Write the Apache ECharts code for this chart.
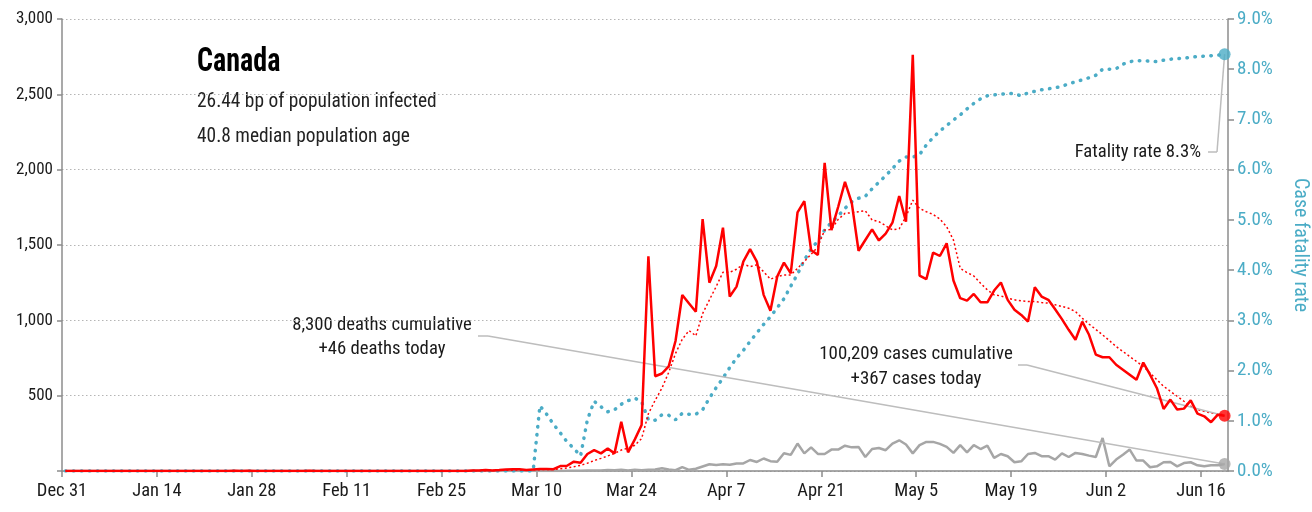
<!DOCTYPE html>
<html>
<head>
<meta charset="utf-8">
<script src="https://cdn.jsdelivr.net/npm/echarts@6/dist/echarts.min.js"></script>
<style>
html,body{margin:0;padding:0;background:#fff;}
#c{width:1312px;height:512px;}
</style>
</head>
<body>
<div id="c"></div>
<script>
// ---- data (day 0 = Dec 31, 2019; last day = Jun 19, 2020) ----
const tickLabels = ['Dec 31','Jan 14','Jan 28','Feb 11','Feb 25','Mar 10','Mar 24','Apr 7','Apr 21','May 5','May 19','Jun 2','Jun 16'];
const tickDays = [0,14,28,42,56,70,84,98,112,126,140,154,168];

const dailyCases = [
0,0,0,0,0,0,0,0,0,0, 0,0,0,0,0,0,0,0,0,0, 0,0,0,0,0,1,0,1,0,0,
0,0,0,0,0,0,1,0,0,0, 0,0,0,0,0,0,0,0,0,0, 0,0,0,0,0,0,0,0,0,0,
4,3,6,3,6,10,12,11,6,10, 13,14,12,33,35,62,55,113,139,117, 150,117,327,124,210,305,1425,629,647,695,
863,1168,1112,1057,1672,1250,1361,1615,1158,1224, 1390,1473,1390,1169,1063,1290,1383,1312,1716,1791,
1467,1434,2045,1599,1754,1919,1780,1462,1533,1604, 1530,1575,1648,1825,1655,2763,1297,1273,1449,1427,
1511,1264,1147,1131,1175,1120,1120,1198,1251,1136, 1070,1036,992,1220,1158,1136,1074,1008,937,871,
991,904,772,755,755,705,672,639,606,720, 639,551,412,474,408,414,469,381,363,324, 374,367];

const casesAvg = [
0,0,0,0,0,0,0,0,0,0, 0,0,0,0,0,0,0,0,0,0, 0,0,0,0,0,0,0,0,0,0,
0,0,0,0,0,0,0,0,0,0, 0,0,0,0,0,0,0,0,0,0, 0,0,0,0,0,0,0,0,0,0,
1,2,2,3,4,5,6,7,8,8, 9,10,11,15,20,28,38,52,69,84, 100,117,139,152,171,215,380,470,550,655,
780,875,932,897,1045,1136,1224,1319,1319,1339, 1372,1357,1368,1323,1273,1290,1301,1301,1345,1390,
1438,1489,1599,1604,1670,1710,1714,1721,1727,1666, 1655,1628,1600,1608,1688,1798,1743,1721,1703,1672,
1621,1533,1345,1317,1295,1246,1202,1169,1162,1147, 1136,1129,1125,1125,1118,1114,1103,1092,1080,1058,
1014,975,940,903,866,826,793,760,727,694, 650,606,562,529,496,463,430,407,396,385, 379,374];

const dailyDeaths = [
0,0,0,0,0,0,0,0,0,0, 0,0,0,0,0,0,0,0,0,0, 0,0,0,0,0,0,0,0,0,0,
0,0,0,0,0,0,0,0,0,0, 0,0,0,0,0,0,0,0,0,0, 0,0,0,0,0,0,0,0,0,0,
0,0,0,0,0,0,0,0,0,1, 0,0,1,0,1,2,1,3,4,3, 6,5,8,3,8,5,8,10,18,10,
5,26,8,15,30,45,40,45,42,50, 50,73,60,83,65,62,118,107,182,117,
157,113,113,142,142,168,157,160,93,146, 153,138,182,204,176,117,172,193,193,180,
160,120,172,124,172,146,168,87,113,98, 58,64,113,120,98,98,76,117,93,120,
113,102,93,219,31,76,108,142,69,69, 25,31,58,60,31,53,58,38,31,38, 38,46];

const fatalityRate = [
0,0,0,0,0,0,0,0,0,0, 0,0,0,0,0,0,0,0,0,0, 0,0,0,0,0,0,0,0,0,0,
0,0,0,0,0,0,0,0,0,0, 0,0,0,0,0,0,0,0,0,0, 0,0,0,0,0,0,0,0,0,0,
0,0,0,0,0,0,0,0,0,0, 1.30,1.13,0.93,0.76,0.58,0.45,0.30,1.02,1.39,1.28, 1.18,1.22,1.33,1.40,1.45,1.38,1.02,1.01,1.12,1.11,
1.02,1.15,1.13,1.13,1.22,1.45,1.66,1.85,2.06,2.25, 2.40,2.58,2.75,2.92,3.07,3.25,3.43,3.68,3.92,4.20,
4.42,4.58,4.80,4.95,5.08,5.23,5.36,5.43,5.47,5.62, 5.75,5.88,6.02,6.17,6.25,6.25,6.30,6.49,6.64,6.77,
6.88,6.99,7.09,7.21,7.32,7.41,7.47,7.49,7.50,7.52, 7.51,7.47,7.53,7.56,7.59,7.61,7.63,7.66,7.71,7.75,
7.79,7.83,7.88,8.00,8.00,8.01,8.10,8.15,8.17,8.17, 8.16,8.15,8.18,8.20,8.21,8.22,8.24,8.25,8.26,8.27, 8.28,8.30];

// ---- chart ----
const FONT = '"Liberation Sans Narrow", "Roboto Condensed", "DejaVu Sans Condensed", Roboto, sans-serif';
const RED = '#ff0000', BLUE = '#4bacc6', GRAY = '#a6a6a6', LEADER = '#bdbdbd', TXT = '#1a1a1a', AXIS = '#8c8c8c';
const pts = arr => arr.map((v, i) => [i + 0.5, v]);
const last = arr => [[arr.length - 0.5, arr[arr.length - 1]]];

const chart = echarts.init(document.getElementById('c'), null, {renderer: 'canvas'});
chart.setOption({
  animation: false,
  backgroundColor: '#fff',
  grid: {left: 62, right: 84, top: 19, bottom: 41, containLabel: false, outerBoundsMode: 'none'},
  xAxis: {
    type: 'value', min: 0, max: 172,
    axisLine: {show: true, lineStyle: {color: AXIS, width: 1.5}},
    axisTick: {show: true, length: 6, customValues: tickDays, lineStyle: {color: AXIS, width: 1.5}},
    splitLine: {show: false},
    axisLabel: {
      color: TXT, fontFamily: FONT, fontSize: 18.5, margin: 11, hideOverlap: false,
      customValues: tickDays, alignMinLabel: 'center', alignMaxLabel: 'center',
      formatter: v => tickLabels[tickDays.indexOf(v)] || ''
    }
  },
  yAxis: [{
    type: 'value', min: 0, max: 3000, interval: 500, position: 'left',
    axisLine: {show: true, lineStyle: {color: AXIS, width: 1.5}},
    axisTick: {show: true, length: 5, lineStyle: {color: AXIS, width: 1.5}},
    splitLine: {show: true, lineStyle: {color: '#b5b5b5', type: [1.5, 2.5], width: 1}},
    axisLabel: {
      color: TXT, fontFamily: FONT, fontSize: 17, margin: 9,
      formatter: v => v === 0 ? '' : v.toLocaleString('en-US')
    }
  }, {
    type: 'value', min: 0, max: 9, interval: 1, position: 'right',
    name: 'Case fatality rate', nameLocation: 'middle', nameRotate: -90, nameGap: 62,
    nameTextStyle: {color: BLUE, fontFamily: FONT, fontSize: 20},
    axisLine: {show: true, lineStyle: {color: AXIS, width: 1.5}},
    axisTick: {show: true, length: 6, lineStyle: {color: AXIS, width: 1.5}},
    splitLine: {show: false},
    axisLabel: {color: BLUE, fontFamily: FONT, fontSize: 19, margin: 9, formatter: v => v.toFixed(1) + '%'}
  }],
  graphic: [
    {type: 'text', x: 197, y: 63, scaleX: 0.85, style: {text: 'Canada', fontFamily: FONT, fontSize: 33, fontWeight: 'bold', fill: '#000', verticalAlign: 'middle'}},
    {type: 'text', x: 197, y: 102, style: {text: '26.44 bp of population infected', fontFamily: FONT, fontSize: 19.4, fill: '#222', verticalAlign: 'middle'}},
    {type: 'text', x: 197, y: 137, style: {text: '40.8 median population age', fontFamily: FONT, fontSize: 19.4, fill: '#222', verticalAlign: 'middle'}},
    {type: 'text', x: 382, y: 325, style: {text: '8,300 deaths cumulative', fontFamily: FONT, fontSize: 18.7, fill: TXT, align: 'center', verticalAlign: 'middle'}},
    {type: 'text', x: 382, y: 349, style: {text: '+46 deaths today', fontFamily: FONT, fontSize: 18.7, fill: TXT, align: 'center', verticalAlign: 'middle'}},
    {type: 'text', x: 916, y: 354, style: {text: '100,209 cases cumulative', fontFamily: FONT, fontSize: 18.9, fill: TXT, align: 'center', verticalAlign: 'middle'}},
    {type: 'text', x: 916, y: 379, style: {text: '+367 cases today', fontFamily: FONT, fontSize: 18.9, fill: TXT, align: 'center', verticalAlign: 'middle'}},
    {type: 'text', x: 1201, y: 152, style: {text: 'Fatality rate 8.3%', fontFamily: FONT, fontSize: 18.7, fill: TXT, align: 'right', verticalAlign: 'middle'}}
  ],
  series: [
    {
      name: 'Deaths', type: 'line', data: pts(dailyDeaths), yAxisIndex: 0, showSymbol: false, z: 2,
      lineStyle: {color: GRAY, width: 2.5}, itemStyle: {color: GRAY},
      markLine: {
        silent: true, symbol: 'none', label: {show: false}, animation: false,
        lineStyle: {color: LEADER, width: 1.5, type: 'solid'},
        data: [
          [{x: 478, y: 336}, {x: 488, y: 336}],
          [{x: 488, y: 336}, {coord: last(dailyDeaths)[0]}]
        ]
      }
    },
    {
      name: 'Fatality rate', type: 'line', data: pts(fatalityRate), yAxisIndex: 1, showSymbol: false, z: 3,
      lineStyle: {color: BLUE, width: 3.5, type: [0.5, 7.5], cap: 'round'}, itemStyle: {color: BLUE},
      markLine: {
        silent: true, symbol: 'none', label: {show: false}, animation: false,
        lineStyle: {color: LEADER, width: 1.5, type: 'solid', cap: 'butt'},
        data: [
          [{x: 1208, y: 152}, {x: 1217, y: 152}],
          [{x: 1217, y: 152}, {coord: last(fatalityRate)[0]}]
        ]
      }
    },
    {
      name: 'Cases avg', type: 'line', data: pts(casesAvg), yAxisIndex: 0, showSymbol: false, z: 4,
      lineStyle: {color: RED, width: 1.5, type: [2, 2.5]}, itemStyle: {color: RED}
    },
    {
      name: 'Cases', type: 'line', data: pts(dailyCases), yAxisIndex: 0, showSymbol: false, z: 5,
      lineStyle: {color: RED, width: 2.5}, itemStyle: {color: RED},
      markLine: {
        silent: true, symbol: 'none', label: {show: false}, animation: false,
        lineStyle: {color: LEADER, width: 1.5, type: 'solid'},
        data: [
          [{x: 1018, y: 365}, {x: 1027, y: 365}],
          [{x: 1027, y: 365}, {coord: last(dailyCases)[0]}]
        ]
      }
    },
    {type: 'scatter', data: last(dailyDeaths), yAxisIndex: 0, symbolSize: 12, itemStyle: {color: GRAY}, z: 10, silent: true},
    {type: 'scatter', data: last(fatalityRate), yAxisIndex: 1, symbolSize: 12, itemStyle: {color: BLUE}, z: 10, silent: true},
    {type: 'scatter', data: last(dailyCases), yAxisIndex: 0, symbolSize: 12, itemStyle: {color: RED}, z: 10, silent: true}
  ]
});
</script>
</body>
</html>
